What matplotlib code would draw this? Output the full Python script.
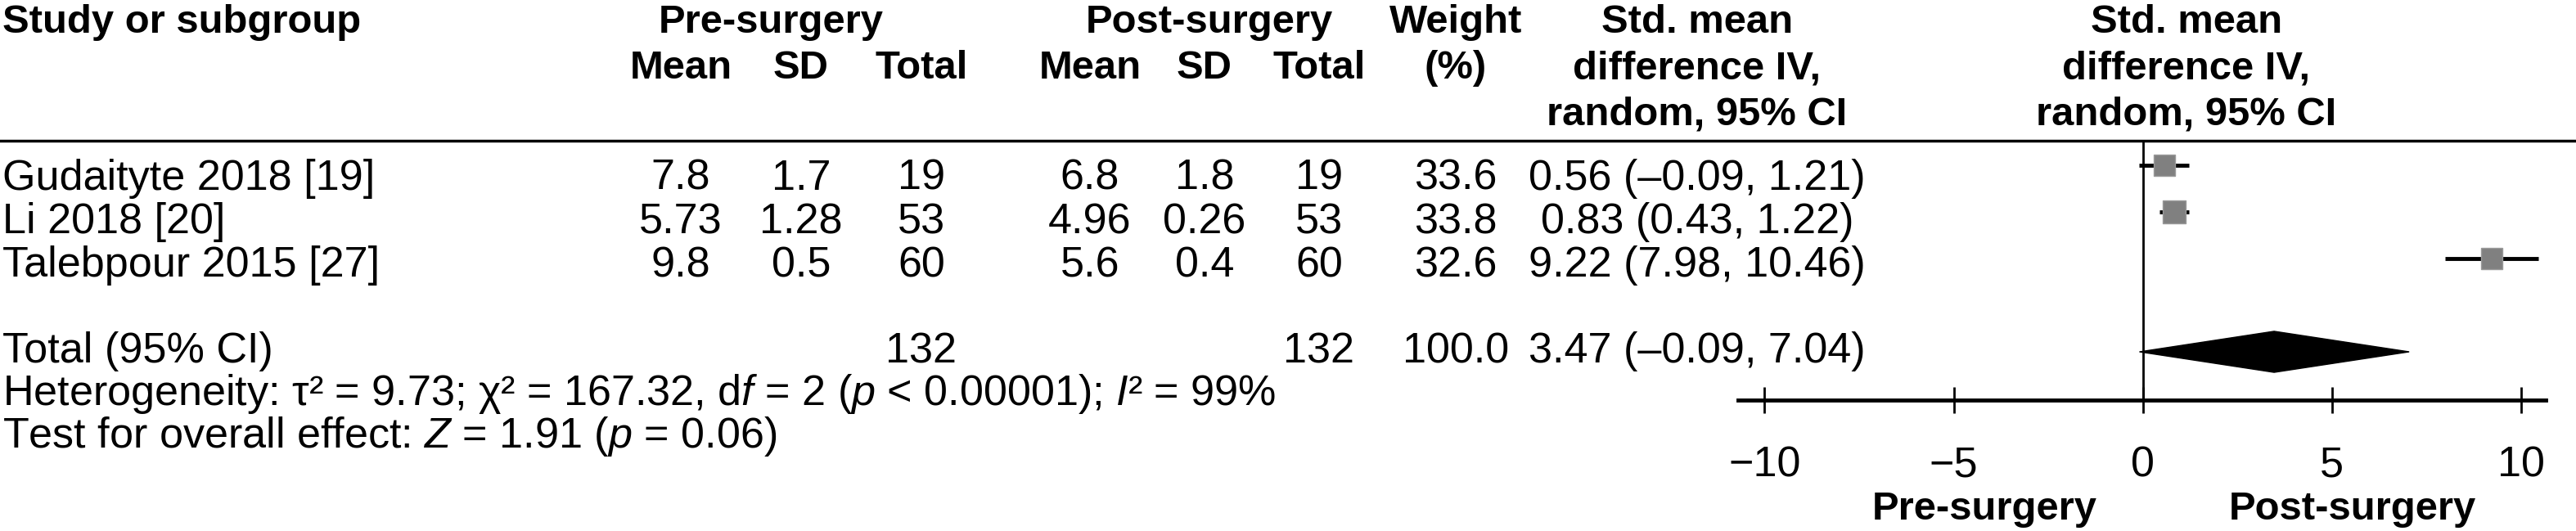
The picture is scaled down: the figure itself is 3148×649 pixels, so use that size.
import matplotlib
matplotlib.use("Agg")
import matplotlib.pyplot as plt
from matplotlib.patches import Polygon
from matplotlib.lines import Line2D

plt.rcParams["font.family"] = ["Liberation Sans", "DejaVu Sans"]
plt.rcParams["mathtext.fontset"] = "custom"
plt.rcParams["mathtext.rm"] = "Liberation Sans"
plt.rcParams["mathtext.it"] = "Liberation Sans:italic"
plt.rcParams["mathtext.bf"] = "Liberation Sans:bold"

# data
studies = ["Gudaityte 2018 [19]", "Li 2018 [20]", "Talebpour 2015 [27]"]
pre_mean = [7.8, 5.73, 9.8]
pre_sd = [1.7, 1.28, 0.5]
pre_n = [19, 53, 60]
post_mean = [6.8, 4.96, 5.6]
post_sd = [1.8, 0.26, 0.4]
post_n = [19, 53, 60]
weight = [33.6, 33.8, 32.6]
smd = [0.56, 0.83, 9.22]
ci_lo = [-0.09, 0.43, 7.98]
ci_hi = [1.21, 1.22, 10.46]

total_pre_n = 132
total_post_n = 132
total_weight = 100.0
total_smd = 3.47
total_lo = -0.09
total_hi = 7.04

heterogeneity = ("Heterogeneity: \u03c4\u00b2 = 9.73; \u03c7\u00b2 = 167.32, d$f$ = 2 "
                 "($p$ < 0.00001); $I$\u00b2 = 99%")
overall = "Test for overall effect: $Z$ = 1.91 ($p$ = 0.06)"
xticks = [-10, -5, 0, 5, 10]

# layout in pixels
W, H = 3148, 649
FS = 37.5
HFS = 35.3


def fx(x):
    return x / W


def fy(y):
    return 1 - y / H


def fmt_ci(est, lo, hi):
    return f"{est:.2f} ({lo:.2f}, {hi:.2f})".replace("-", "\u2013")


fig = plt.figure(figsize=(W / 100, H / 100), dpi=100)


def txt(x, y, s, ha="center", bold=False, size=None):
    fig.text(fx(x), fy(y), s, ha=ha, va="baseline",
             fontsize=size or (HFS if bold else FS),
             fontweight="bold" if bold else "normal")


# column centres
c_pre = [832, 979, 1126]
c_post = [1332, 1472, 1612]
c_w = 1779
c_ci = 2074
c_forest = 2672

# header
txt(3, 40, "Study or subgroup", ha="left", bold=True)
txt(942, 40, "Pre-surgery", bold=True)
txt(1478, 40, "Post-surgery", bold=True)
for cx, s in zip(c_pre + c_post, ["Mean", "SD", "Total"] * 2):
    txt(cx, 96, s, bold=True)
txt(c_w, 40, "Weight", bold=True)
txt(c_w, 96, "(%)", bold=True)
for cx in (c_ci, c_forest):
    txt(cx, 40, "Std. mean", bold=True)
    txt(cx, 96, "difference IV,", bold=True)
    txt(cx, 152, "random, 95% CI", bold=True)

fig.add_artist(Line2D([0, 1], [fy(172), fy(172)], transform=fig.transFigure,
                      color="black", lw=2.5))

# study rows
for i, name in enumerate(studies):
    base = 232 + 53 * i
    txt(3, base, name, ha="left")
    for cx, v in zip(c_pre, [pre_mean[i], pre_sd[i], pre_n[i]]):
        txt(cx, base, str(v))
    for cx, v in zip(c_post, [post_mean[i], post_sd[i], post_n[i]]):
        txt(cx, base, str(v))
    txt(c_w, base, f"{weight[i]:.1f}")
    txt(c_ci, base, fmt_ci(smd[i], ci_lo[i], ci_hi[i]))

# total rows
txt(3, 443, "Total (95% CI)", ha="left")
txt(c_pre[2], 443, str(total_pre_n))
txt(c_post[2], 443, str(total_post_n))
txt(c_w, 443, f"{total_weight:.1f}")
txt(c_ci, 443, fmt_ci(total_smd, total_lo, total_hi))
txt(3, 495, heterogeneity, ha="left")
txt(3, 547, overall, ha="left")

# forest plot
ax = fig.add_axes([fx(2124), fy(489), fx(3111) - fx(2124), fy(172) - fy(489)])
ax.set_xlim(-10.7, 10.65)
ax.set_ylim(5.035, -0.526)
ax.patch.set_visible(False)
for side in ("top", "left", "right"):
    ax.spines[side].set_visible(False)
ax.spines["bottom"].set_linewidth(3.5)
ax.set_yticks([])
ax.set_xticks(xticks)
ax.tick_params(axis="x", direction="inout", length=23, width=2, pad=28.8,
               labelsize=FS)
ax.axvline(0, color="black", lw=2, zorder=1)

for i in range(len(studies)):
    ax.plot([ci_lo[i], ci_hi[i]], [i, i], color="black", lw=3.5,
            solid_capstyle="butt", zorder=2)
    ax.plot(smd[i], i, marker="s", ms=19.4 * weight[i] / 33.6,
            color="#808080", mec="#9a9a9a", mew=1, zorder=3)

total_row = len(studies) + 1
ax.add_patch(Polygon([(total_lo, total_row), (total_smd, total_row - 0.44),
                      (total_hi, total_row), (total_smd, total_row + 0.44)],
                     closed=True, fc="black", ec="black", lw=1, zorder=3))

txt(2425, 635, "Pre-surgery", bold=True)
txt(2875, 635, "Post-surgery", bold=True)

fig.savefig("out.png", dpi=100)
